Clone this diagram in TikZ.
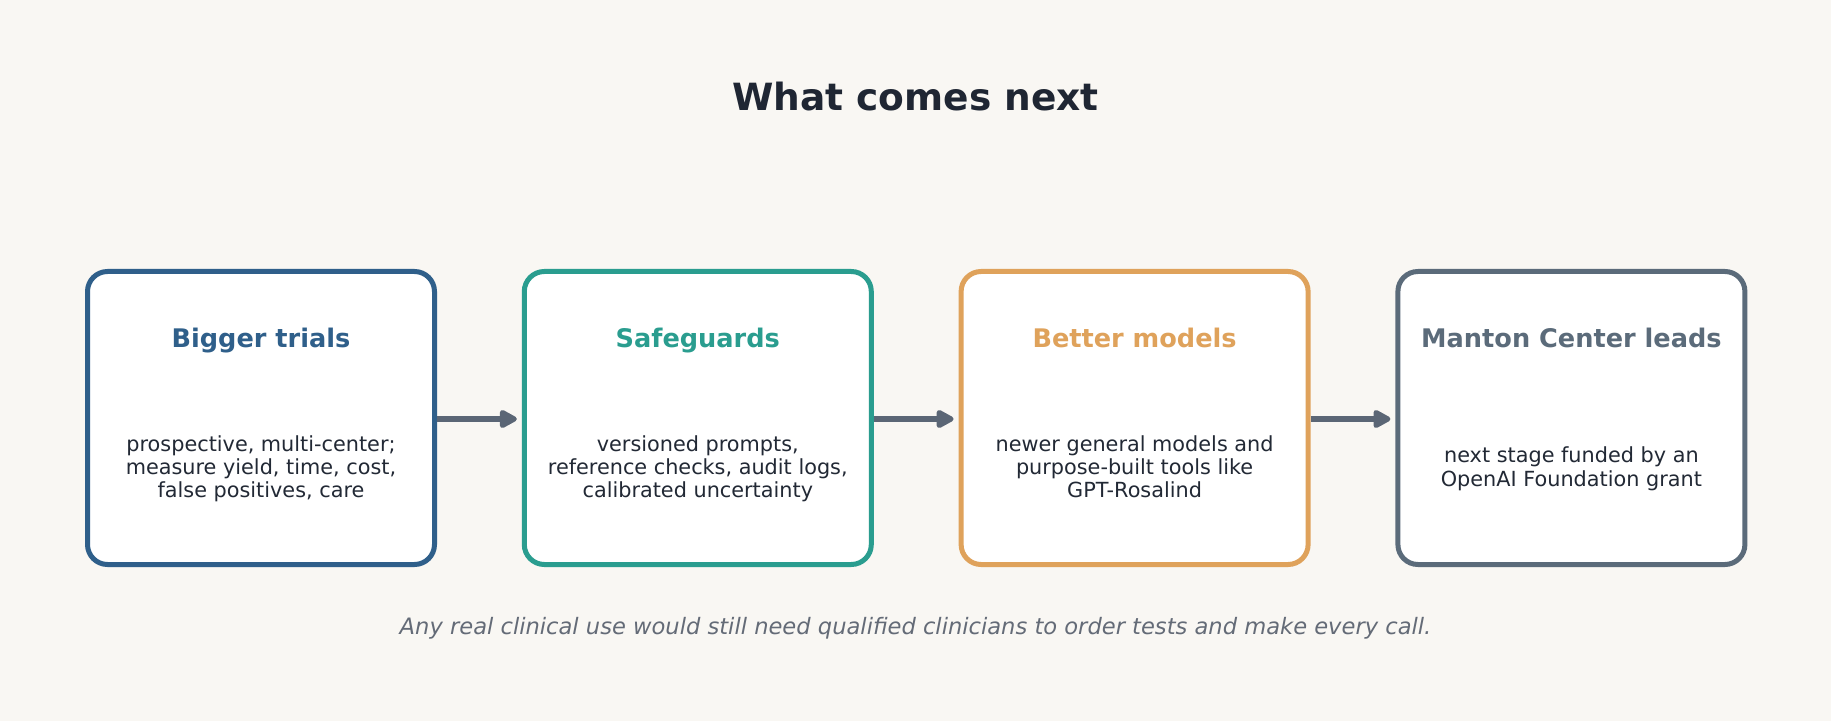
\documentclass[tikz,border=0pt]{standalone}
\usepackage{fontspec}
\setmainfont{DejaVu Sans}
\usetikzlibrary{
positioning,
arrows.meta,
}
\definecolor{paper}{HTML}{F9F7F3}
\definecolor{ink}{HTML}{1F2633}
\definecolor{bodyink}{HTML}{222935}
\definecolor{noteink}{HTML}{646B77}
\definecolor{trialsblue}{HTML}{2F5F8A}
\definecolor{guardteal}{HTML}{2A9D8F}
\definecolor{modelorange}{HTML}{DFA25B}
\definecolor{mantongray}{HTML}{5B6B7A}
\definecolor{arrowgray}{HTML}{5B6675}
\tikzset{
node distance=84.8pt,
outer sep=auto,
every node/.style={align=center},
stage/.style={rectangle, rounded corners=20pt, draw, line width=5pt, fill=white,
  minimum width=347pt, minimum height=293pt, inner sep=0pt},
heading/.style={font=\fontsize{25.6}{30}\bfseries, anchor=base},
detail/.style={font=\fontsize{20.8}{23.3}\selectfont, text=bodyink,
  execute at begin node=\strut, execute at end node=\strut},
link/.style={->, arrowgray, line width=5.4pt, shorten >=5pt},
>={Triangle[length=20pt,width=20pt,round]},
}

\begin{document}
\begin{tikzpicture}[x=1pt, y=1pt]
    \fill [paper] (0,0) rectangle (1831,721);
    \useasboundingbox (0,0) rectangle (1831,721);
    \node (title) [anchor=base, font=\fontsize{37.5}{45}\bfseries, text=ink] at (915.5,610) {What comes next};
    % the four stages
    \node (trials) [stage, draw=trialsblue] at (261,303) {};
    \node (safeguards) [stage, draw=guardteal, right=of trials] {};
    \node (models) [stage, draw=modelorange, right=of safeguards] {};
    \node (manton) [stage, draw=mantongray, right=of models] {};
    \node (trials head) [heading, text=trialsblue] at ([yshift=-79pt]trials.north) {Bigger trials};
    \node (safeguards head) [heading, text=guardteal] at ([yshift=-79pt]safeguards.north) {Safeguards};
    \node (models head) [heading, text=modelorange] at ([yshift=-79pt]models.north) {Better models};
    \node (manton head) [heading, text=mantongray] at ([yshift=-79pt]manton.north) {Manton Center leads};
    \node (trials text) [detail] at ([yshift=-52pt]trials.center) {prospective, multi-center;\\measure yield, time, cost,\\false positives, care};
    \node (safeguards text) [detail] at ([yshift=-52pt]safeguards.center) {versioned prompts,\\reference checks, audit logs,\\calibrated uncertainty};
    \node (models text) [detail] at ([yshift=-52pt]models.center) {newer general models and\\purpose-built tools like\\GPT-Rosalind};
    \node (manton text) [detail] at ([yshift=-52pt]manton.center) {next stage funded by an\\OpenAI Foundation grant};
    \draw [link] ([yshift=-1pt]trials.east) -- ([yshift=-1pt]safeguards.west);
    \draw [link] ([yshift=-1pt]safeguards.east) -- ([yshift=-1pt]models.west);
    \draw [link] ([yshift=-1pt]models.east) -- ([yshift=-1pt]manton.west);
    \node (note) [anchor=base, font=\fontsize{22.6}{26}\itshape, text=noteink] at (915.5,87) {Any real clinical use would still need qualified clinicians to order tests and make every call.};
\end{tikzpicture}
\end{document}
